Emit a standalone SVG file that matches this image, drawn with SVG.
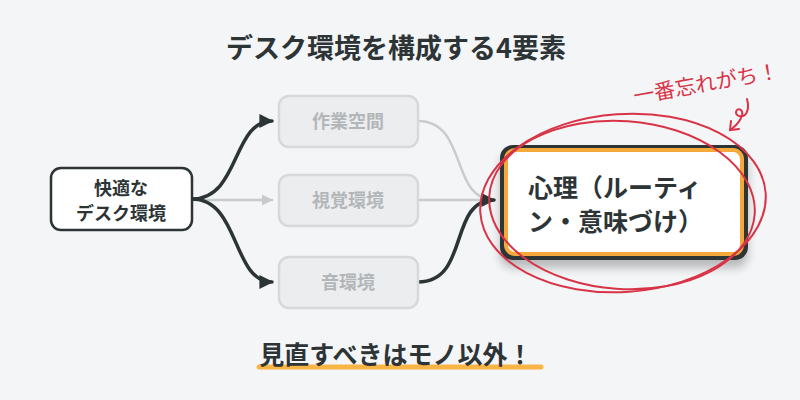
<svg xmlns="http://www.w3.org/2000/svg" width="800" height="400" viewBox="0 0 800 400">
<defs>
<style>
.t{font-family:"Noto Sans CJK JP","Noto Sans",sans-serif;font-weight:700;}
.dark{fill:#2d3436;}
.mid rect{fill:#ebedef;stroke:#d6d9dc;stroke-width:2.5;}
.mid text{fill:#b3b6b9;font-size:18px;font-weight:700;font-family:"Noto Sans CJK JP","Noto Sans",sans-serif;}
.cd{fill:none;stroke:#2d3436;stroke-width:3.5;stroke-linecap:round;}
.cg{fill:none;stroke:#c9ccce;stroke-width:2.5;stroke-linecap:round;}
.red{fill:none;stroke:#d83447;stroke-width:2;stroke-linecap:round;}
</style>
<marker id="ad" viewBox="0 0 10 10" refX="9" refY="5" markerWidth="4" markerHeight="4" orient="auto" markerUnits="strokeWidth"><path d="M0,0 L10,5 L0,10 z" fill="#2d3436"/></marker>
<marker id="ag" viewBox="0 0 10 10" refX="9" refY="5" markerWidth="4.5" markerHeight="4.5" orient="auto" markerUnits="strokeWidth"><path d="M0,0 L10,5 L0,10 z" fill="#c9ccce"/></marker>
<filter id="sh" x="-20%" y="-20%" width="140%" height="160%"><feGaussianBlur in="SourceAlpha" stdDeviation="5"/><feOffset dx="0" dy="8"/><feComponentTransfer><feFuncA type="linear" slope="0.25"/></feComponentTransfer><feMerge><feMergeNode/><feMergeNode in="SourceGraphic"/></feMerge></filter>
</defs>
<rect width="800" height="400" fill="#f4f5f7"/>
<text class="t dark" x="396" y="58" font-size="27" text-anchor="middle">デスク環境を構成する4要素</text>

<g id="connectors">
<path class="cg" d="M194,200 L272,200" marker-end="url(#ag)"/>
<path class="cg" d="M418,121 C468,121 450,200 494,200"/>
<path class="cg" d="M418,200 L494,200"/>
<path class="cd" d="M192,199 C240,199 232,121 272,121" marker-end="url(#ad)"/>
<path class="cd" d="M192,199 C240,199 232,282 272,282" marker-end="url(#ad)"/>
<path class="cd" d="M418,282 C470,282 448,200 494,200" marker-end="url(#ad)"/>
</g>

<g id="node-start">
<rect x="51" y="168" width="141" height="62" rx="10" fill="#ffffff" stroke="#2d3436" stroke-width="2.5"/>
<text class="t dark" font-size="18" text-anchor="middle" x="121" y="195">快適な</text>
<text class="t dark" font-size="18" text-anchor="middle" x="121" y="220">デスク環境</text>
</g>

<g id="node-work" class="mid">
<rect x="279" y="96" width="139" height="51" rx="10"/>
<text x="348" y="128" text-anchor="middle">作業空間</text>
</g>
<g id="node-visual" class="mid">
<rect x="279" y="175" width="139" height="51" rx="10"/>
<text x="348" y="207" text-anchor="middle">視覚環境</text>
</g>
<g id="node-sound" class="mid">
<rect x="279" y="257" width="139" height="51" rx="10"/>
<text x="348" y="289" text-anchor="middle">音環境</text>
</g>

<g id="node-mind">
<g filter="url(#sh)">
<rect x="500" y="145" width="248" height="115" rx="13" fill="#2d3436"/>
</g>
<rect x="506" y="150" width="236" height="104" rx="9" fill="#ffffff" stroke="#f6a93b" stroke-width="4"/>
<text class="t dark" font-size="25" x="528" y="197">心理（ルーティ</text>
<text class="t dark" font-size="25" x="528" y="231">ン・意味づけ）</text>
</g>

<g id="annotation">
<ellipse class="red" cx="623" cy="203" rx="143" ry="89" transform="rotate(-4 623 203)"/>
<ellipse class="red" cx="622" cy="205" rx="133" ry="84" transform="rotate(4 622 205)"/>
<text x="706" y="91" font-size="21" fill="#d83447" text-anchor="middle" font-family="'Noto Sans CJK JP',sans-serif" font-weight="400" transform="rotate(-10 706 84)">一番忘れがち！</text>
<path class="red" d="M747,99 C750,110 746,118 739,116 C734,114 736,107 741,110 C745,114 739,124 730,130"/>
<path class="red" d="M731,121 L730,130 L739,129"/>
</g>

<g id="footer">
<path d="M259,367 L541,367" stroke="#f9b446" stroke-width="5" stroke-linecap="round"/>
<text class="t dark" x="396" y="364" font-size="25" text-anchor="middle">見直すべきはモノ以外！</text>
</g>
</svg>
